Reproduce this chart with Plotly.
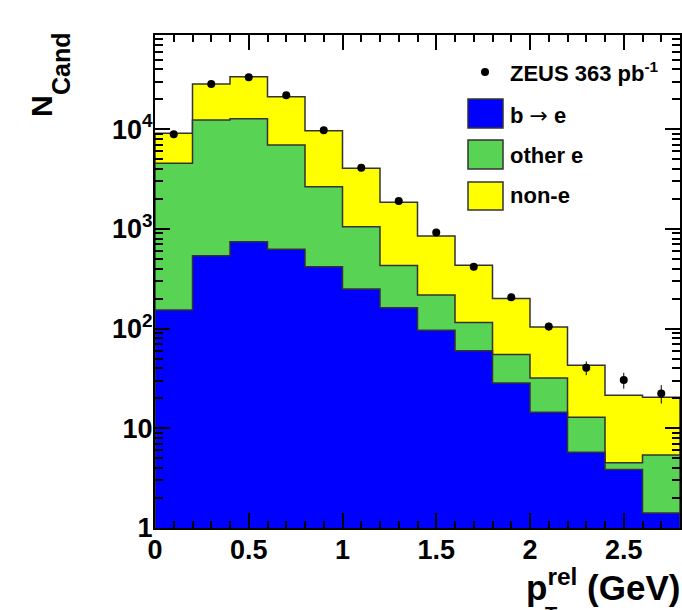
import plotly.graph_objects as go

# ---------------- data ----------------
bin_edges = [0.0, 0.2, 0.4, 0.6, 0.8, 1.0, 1.2, 1.4, 1.6, 1.8, 2.0, 2.2, 2.4, 2.6, 2.8]
b_to_e  = [154, 538, 744, 624, 418, 250, 162, 96, 60, 28.5, 14.5, 5.75, 3.86, 1.41]
other_e = [4396, 11862, 11956, 6316, 2232, 802, 268, 121, 55, 26.5, 17.5, 7.15, 0.65, 3.99]
non_e   = [4550, 16000, 20900, 14260, 7010, 2998, 1420, 632, 318, 146, 72, 30.1, 16.9, 15.1]
zeus_data = [8900, 28400, 33200, 21900, 9750, 4110, 1905, 920, 417, 206, 105, 40.5, 30.5, 22.4]
zeus_err  = [94, 170, 182, 148, 99, 64, 44, 30, 20, 14, 10, 6.4, 5.5, 4.7]
y_tickvals = [1, 10, 100, 1000, 10000]
y_ticktext = ["1", "10", "10<sup>2</sup>", "10<sup>3</sup>", "10<sup>4</sup>"]

BLUE, GREEN, YELLOW = "#0000ff", "#59d354", "#ffff00"
OUTLINE = "#333333"
FONT = "Liberation Sans, Arial, Helvetica, sans-serif"

# stacked tops
stack_blue = list(b_to_e)
stack_green = [b + o for b, o in zip(b_to_e, other_e)]
stack_yellow = [g + n for g, n in zip(stack_green, non_e)]
centers = [(bin_edges[i] + bin_edges[i + 1]) / 2 for i in range(len(bin_edges) - 1)]

BASE = 0.3  # below the visible range on the log axis


def step_path(values):
    xs, ys = [bin_edges[0]], [BASE]
    for i, v in enumerate(values):
        xs += [bin_edges[i], bin_edges[i + 1]]
        ys += [v, v]
    xs.append(bin_edges[-1])
    ys.append(BASE)
    return xs, ys


fig = go.Figure()
for vals, col, name in [(stack_yellow, YELLOW, "non-e"),
                        (stack_green, GREEN, "other e"),
                        (stack_blue, BLUE, "b \u2192 e")]:
    xs, ys = step_path(vals)
    fig.add_trace(go.Scatter(x=xs, y=ys, mode="lines", fill="toself",
                             fillcolor=col, line=dict(color=OUTLINE, width=1.5),
                             name=name, showlegend=False, hoverinfo="skip"))

fig.add_trace(go.Scatter(x=centers, y=zeus_data, mode="markers",
                         marker=dict(color="black", size=8),
                         error_y=dict(type="data", array=zeus_err, color="black",
                                      thickness=1, width=0),
                         name="ZEUS 363 pb<sup>-1</sup>", showlegend=False))

# y minor ticks (2..9 per decade)
minor_vals = [m * d for d in [1, 10, 100, 1000, 10000] for m in range(2, 10)]

fig.update_layout(
    width=682, height=610,
    margin=dict(l=155, r=2, t=35, b=82, autoexpand=False),
    paper_bgcolor="white", plot_bgcolor="white",
    font=dict(family=FONT, color="black"),
    xaxis=dict(range=[0, 2.8], dtick=0.5, tick0=0, ticks="inside", ticklen=15,
               tickwidth=1.5, tickcolor="black",
               showline=True, linewidth=2, linecolor="black", mirror="ticks",
               showgrid=False, zeroline=False,
               tickfont=dict(family=FONT, size=27, weight="bold"),
               minor=dict(dtick=0.1, ticks="inside", ticklen=7, tickwidth=1.5,
                          tickcolor="black", showgrid=False),
               layer="above traces", ticklabelstandoff=-3),
    yaxis=dict(type="log", range=[0, 4.945], tickmode="array",
               tickvals=y_tickvals, ticktext=y_ticktext,
               ticks="inside", ticklen=15, tickwidth=1.5, tickcolor="black",
               showline=True, linewidth=2, linecolor="black", mirror="ticks",
               showgrid=False, zeroline=False,
               tickfont=dict(family=FONT, size=27, weight="bold"),
               minor=dict(tickmode="array", tickvals=minor_vals, ticks="inside",
                          ticklen=8, tickwidth=1.5, tickcolor="black", showgrid=False),
               layer="above traces", ticklabelstandoff=-5),
)


def px_x(p):
    return (p - 155) / 525


def px_y(p):
    return (528 - p) / 493


ARROW = '<span style="font-family:DejaVu Sans;font-weight:normal">\u2192</span>'

annotations = [
    dict(text="<b>N</b>", x=px_x(41), y=px_y(106), textangle=-90,
         font=dict(size=30, family=FONT)),
    dict(text="<b>Cand</b>", x=px_x(61), y=px_y(64), textangle=-90,
         font=dict(size=25, family=FONT)),
    dict(text="<b>p<sup>rel</sup> (GeV)</b>", x=px_x(682), y=px_y(585),
         xanchor="right", font=dict(size=35, family=FONT)),
    dict(text="<b>T</b>", x=px_x(551), y=px_y(614), font=dict(size=20, family=FONT)),
    dict(text="<b>ZEUS 363 pb<sup>-1</sup></b>", x=px_x(508), y=px_y(72),
         xanchor="left", font=dict(size=22, family=FONT)),
    dict(text="<b>b " + ARROW + " e</b>", x=px_x(508), y=px_y(115),
         xanchor="left", font=dict(size=22, family=FONT)),
    dict(text="<b>other e</b>", x=px_x(508), y=px_y(156),
         xanchor="left", font=dict(size=22, family=FONT)),
    dict(text="<b>non-e</b>", x=px_x(508), y=px_y(196),
         xanchor="left", font=dict(size=22, family=FONT)),
]
for a in annotations:
    a.update(xref="paper", yref="paper", showarrow=False)
    a.setdefault("xanchor", "center")
    a.setdefault("yanchor", "middle")
fig.update_layout(annotations=annotations)

shapes = [
    dict(type="circle", x0=px_x(481), x1=px_x(489), y0=px_y(76), y1=px_y(68),
         fillcolor="black", line=dict(color="black", width=0)),
    dict(type="rect", x0=px_x(468), x1=px_x(503), y0=px_y(128), y1=px_y(99),
         fillcolor=BLUE, line=dict(color=OUTLINE, width=1.5)),
    dict(type="rect", x0=px_x(468), x1=px_x(503), y0=px_y(169), y1=px_y(140),
         fillcolor=GREEN, line=dict(color=OUTLINE, width=1.5)),
    dict(type="rect", x0=px_x(468), x1=px_x(503), y0=px_y(210), y1=px_y(182),
         fillcolor=YELLOW, line=dict(color=OUTLINE, width=1.5)),
]
for s in shapes:
    s.update(xref="paper", yref="paper")
fig.update_layout(shapes=shapes)

fig.write_html("out.html", config={"displayModeBar": False},
               post_script="document.body.style.margin='0px';"
                           "document.body.style.overflow='hidden';")
